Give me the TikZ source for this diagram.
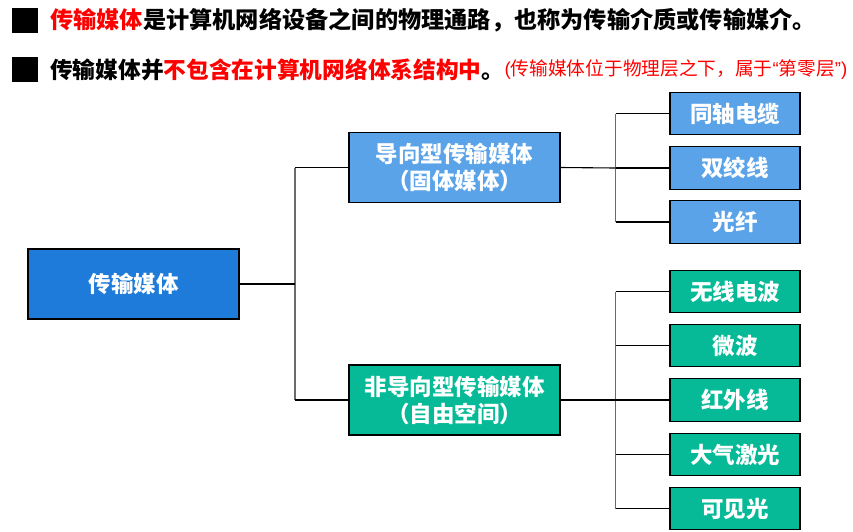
\documentclass[tikz,border=0pt]{standalone}
\usepackage{fontspec}
\setmainfont{Noto Sans CJK SC}
\newfontfamily\latinq{Liberation Sans}
\definecolor{rootblue}{HTML}{1E7BD9}
\definecolor{lightblue}{HTML}{5BA3E8}
\definecolor{tealgreen}{HTML}{06BA98}
\definecolor{hdrred}{HTML}{FF0000}
\definecolor{busgray}{HTML}{6A6A6A}
\tikzset{
  box/.style={draw=black, line width=1.4pt, inner sep=0pt, text=white,
    font=\fontsize{22.5}{27}\selectfont\bfseries, align=center},
  rootbox/.style={box, fill=rootblue, minimum width=211, minimum height=70},
  midbox/.style={box, minimum width=211, minimum height=70},
  leafbox/.style={box, minimum width=130, minimum height=42.5},
  hdr/.style={anchor=west, inner sep=0pt},
  conn/.style={draw=black, line width=1.1pt},
  bus/.style={draw=busgray, line width=1.3pt},
}
\begin{document}
\begin{tikzpicture}[x=1pt,y=-1pt]
\useasboundingbox (0,0) rectangle (853,531);
% header
\fill[black] (12,8) rectangle (38,33);
\fill[black] (12,57) rectangle (38,82);
\node[hdr, font=\fontsize{23.2}{28}\selectfont\bfseries] (h1) at (50,20) {\textcolor{hdrred}{传输媒体}是计算机网络设备之间的物理通路，也称为传输介质或传输媒介。};
\node[hdr, font=\fontsize{22.7}{28}\selectfont\bfseries] (h2) at (50,70) {传输媒体并\textcolor{hdrred}{不包含在计算机网络体系结构中}。};
\node[anchor=west, inner sep=0pt, font=\fontsize{18.7}{22}\selectfont, text=hdrred] (h3) at (h2.east) {{\latinq(}传输媒体位于物理层之下，属于{\latinq“}第零层{\latinq”)}};
% boxes
\node[rootbox] (root) at (133.5,284) {传输媒体};
\node[midbox, fill=lightblue] (guided) at (454.5,167.5) {导向型传输媒体\\（固体媒体）};
\node[midbox, fill=tealgreen] (unguided) at (454.5,400) {非导向型传输媒体\\（自由空间）};
\node[leafbox, fill=lightblue] (g1) at (735,113.5) {同轴电缆};
\node[leafbox, fill=lightblue] (g2) at (735,168) {双绞线};
\node[leafbox, fill=lightblue] (g3) at (735,222) {光纤};
\node[leafbox, fill=tealgreen] (u1) at (735,291.5) {无线电波};
\node[leafbox, fill=tealgreen] (u2) at (735,345.5) {微波};
\node[leafbox, fill=tealgreen] (u3) at (735,400) {红外线};
\node[leafbox, fill=tealgreen] (u4) at (735,454.5) {大气激光};
\node[leafbox, fill=tealgreen] (u5) at (735,508.5) {可见光};
% connectors
\coordinate (b1) at (295,284);
\coordinate (b2) at (615.5,168);
\coordinate (b3) at (615.5,400);
\draw[bus] (b1 |- guided.west) -- (b1 |- unguided.west);
\draw[conn] (root.east) -- (b1);
\draw[conn] (b1 |- guided.west) -- (guided.west);
\draw[conn] (b1 |- unguided.west) -- (unguided.west);
\draw[bus] (b2 |- g1.west) -- (b2 |- g3.west);
\draw[conn] (guided.east) -- (b2);
\draw[conn] (b2 |- g1.west) -- (g1.west);
\draw[conn] (b2) -- (g2.west);
\draw[conn] (b2 |- g3.west) -- (g3.west);
\draw[bus] (b3 |- u1.west) -- (b3 |- u5.west);
\draw[conn] (unguided.east) -- (b3);
\draw[conn] (b3 |- u1.west) -- (u1.west);
\draw[conn] (b3 |- u2.west) -- (u2.west);
\draw[conn] (b3) -- (u3.west);
\draw[conn] (b3 |- u4.west) -- (u4.west);
\draw[conn] (b3 |- u5.west) -- (u5.west);
\end{tikzpicture}
\end{document}
